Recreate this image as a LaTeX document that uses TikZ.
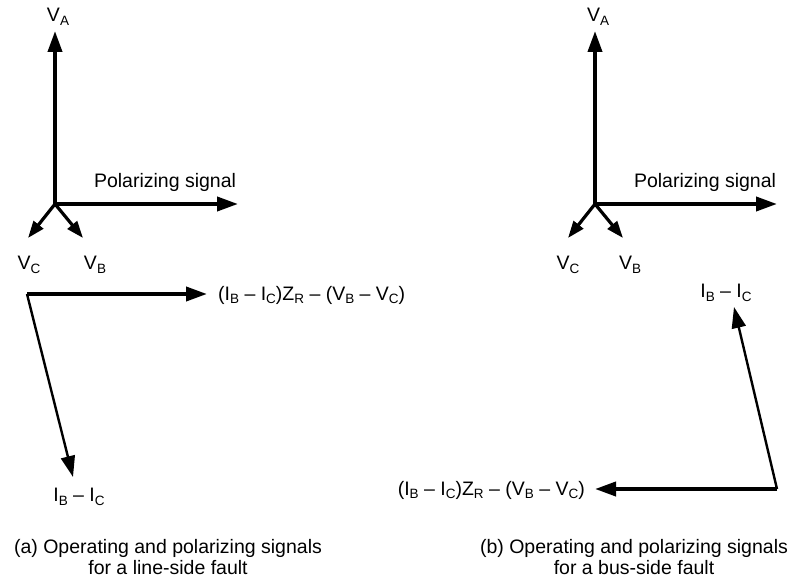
\documentclass[tikz,border=0pt]{standalone}
\usepackage{fontspec}
\setmainfont{Liberation Sans}
\usetikzlibrary{arrows.meta}
\newcommand{\ssb}[1]{\raisebox{-0.35ex}{\fontsize{13.5}{13.5}\selectfont #1}}
\begin{document}
\begin{tikzpicture}[x=1pt,y=-1pt,
  lbl/.style={inner sep=0pt,font=\fontsize{19.5}{21}\selectfont},
  captionbox/.style={inner sep=0pt,align=center,font=\fontsize{19.5}{21.5}\selectfont},
  thickarrow/.style={line width=3.8pt,-{Triangle[length=21pt,width=14pt]}},
  thinarrow/.style={line width=2.4pt,-{Triangle[length=21pt,width=14pt]}},
  shortarrow/.style={line width=3.2pt,-{Triangle[length=17pt,width=12pt]}}]
\useasboundingbox (0,0) rectangle (795,583);

% ---- left phasor star
\coordinate (O1) at (55,204);
\coordinate (VA1) at (55,31);
\coordinate (P1) at (238,204);
\coordinate (VC1) at (28,238);
\coordinate (VB1) at (83,238);
\draw[thickarrow] (O1) -- (VA1);
\draw[thickarrow] (O1) -- (P1);
\draw[shortarrow] (O1) -- (VC1);
\draw[shortarrow] (O1) -- (VB1);
\node[lbl] (lVA1) at (58,17) {V\ssb{A}};
\node[lbl] (lP1) at (165,182) {Polarizing signal};
\node[lbl] (lVC1) at (29,265) {V\ssb{C}};
\node[lbl] (lVB1) at (95,265) {V\ssb{B}};

% ---- left line-side fault
\coordinate (L1) at (27,294);
\coordinate (LH) at (207,294);
\coordinate (LD) at (73,477);
\draw[thickarrow] (L1) -- (LH);
\draw[thinarrow] (L1) -- (LD);
\node[lbl,anchor=west] (lLH) at (218,295) {(I\ssb{B} -- I\ssb{C})Z\ssb{R} -- (V\ssb{B} -- V\ssb{C})};
\node[lbl] (lLD) at (79,497) {I\ssb{B} -- I\ssb{C}};

% ---- right phasor star
\coordinate (O2) at (595,204);
\coordinate (VA2) at (595,31);
\coordinate (P2) at (777,204);
\coordinate (VC2) at (568,238);
\coordinate (VB2) at (623,238);
\draw[thickarrow] (O2) -- (VA2);
\draw[thickarrow] (O2) -- (P2);
\draw[shortarrow] (O2) -- (VC2);
\draw[shortarrow] (O2) -- (VB2);
\node[lbl] (lVA2) at (598,17) {V\ssb{A}};
\node[lbl] (lP2) at (705,182) {Polarizing signal};
\node[lbl] (lVC2) at (568,265) {V\ssb{C}};
\node[lbl] (lVB2) at (630,265) {V\ssb{B}};

% ---- right bus-side fault
\coordinate (R1) at (777,489);
\coordinate (RH) at (595,489);
\coordinate (RU) at (734,307);
\draw[thickarrow] (R1) -- (RH);
\draw[thinarrow] (R1) -- (RU);
\node[lbl,anchor=east] (lRH) at (585,490) {(I\ssb{B} -- I\ssb{C})Z\ssb{R} -- (V\ssb{B} -- V\ssb{C})};
\node[lbl] (lRU) at (726,293) {I\ssb{B} -- I\ssb{C}};

% ---- captions
\node[captionbox] (capA) at (168,557) {(a) Operating and polarizing signals\\for a line-side fault};
\node[captionbox] (capB) at (634,557) {(b) Operating and polarizing signals\\for a bus-side fault};
\end{tikzpicture}
\end{document}
